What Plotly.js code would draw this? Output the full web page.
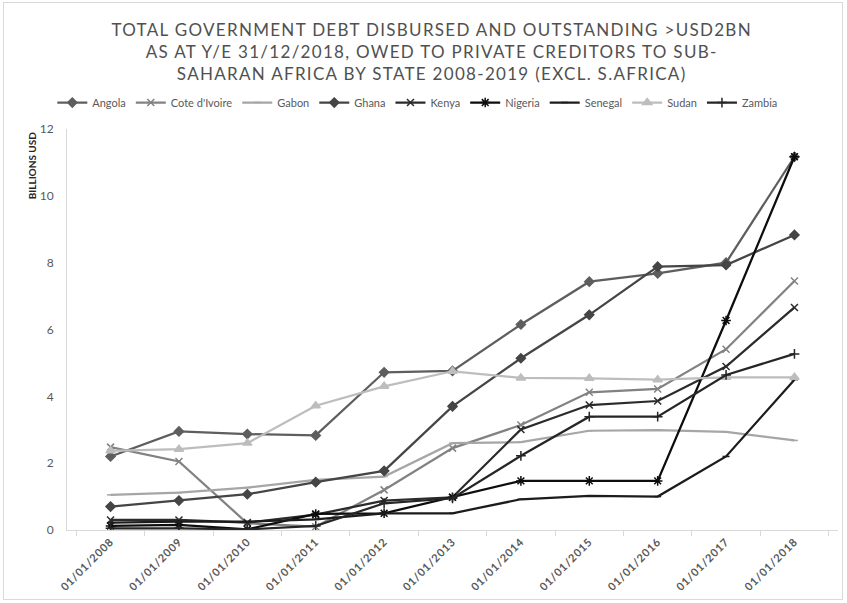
<!DOCTYPE html>
<html>
<head>
<meta charset="utf-8">
<script src="https://cdn.plot.ly/plotly-3.0.1.min.js"></script>
<style>
  html, body { margin: 0; padding: 0; background: #ffffff; }
  #chart { width: 847px; height: 603px; }
  #frame { position: absolute; left: 3px; top: 2px; width: 840px; height: 598px;
           border: 1px solid #d9d9d9; pointer-events: none; box-sizing: border-box; }
  .gtitle { letter-spacing: 1.3px; }
  .xtick text { letter-spacing: 0.8px; }
</style>
</head>
<body>
<div id="chart"></div>
<div id="frame"></div>
<script>
// Year-end dates on the category axis
const dates = ["01/01/2008", "01/01/2009", "01/01/2010", "01/01/2011", "01/01/2012", "01/01/2013",
               "01/01/2014", "01/01/2015", "01/01/2016", "01/01/2017", "01/01/2018"];

// Debt outstanding to private creditors, billions USD
const angola   = [2.20, 2.95, 2.87, 2.83, 4.72, 4.76, 6.15, 7.43, 7.68, 8.00, 11.17];
const coteIvoire = [2.48, 2.05, 0.20, 0.10, 1.20, 2.45, 3.14, 4.12, 4.22, 5.41, 7.45];
const gabon    = [1.05, 1.12, 1.27, 1.50, 1.60, 2.60, 2.63, 2.97, 2.99, 2.94, 2.68];
const ghana    = [0.70, 0.88, 1.07, 1.43, 1.77, 3.70, 5.14, 6.44, 7.88, 7.93, 8.83];
const kenya    = [0.30, 0.30, 0.22, 0.46, 0.88, 0.98, 3.01, 3.74, 3.86, 4.89, 6.66];
const nigeria  = [0.12, 0.15, 0.02, 0.48, 0.50, 0.98, 1.47, 1.47, 1.47, 6.27, 11.17];
const senegal  = [0.22, 0.25, 0.25, 0.32, 0.50, 0.50, 0.92, 1.02, 1.00, 2.20, 4.50];
const sudan    = [2.37, 2.42, 2.60, 3.72, 4.30, 4.75, 4.55, 4.54, 4.50, 4.57, 4.57];
const zambia   = [0.05, 0.05, 0.02, 0.12, 0.80, 0.95, 2.22, 3.39, 3.39, 4.64, 5.27];

const countries = ["Angola", "Cote d'Ivoire", "Gabon", "Ghana", "Kenya", "Nigeria", "Senegal", "Sudan", "Zambia"];
const seriesValues = [angola, coteIvoire, gabon, ghana, kenya, nigeria, senegal, sudan, zambia];

// Grey-scale styling for each country's line
const styles = [
  { color: "#5e5e5e", symbol: "diamond",        size: 7 },
  { color: "#828282", symbol: "x-thin-open",    size: 7 },
  { color: "#a6a6a6", symbol: "line-ew-open",   size: 5 },
  { color: "#454545", symbol: "diamond",        size: 7 },
  { color: "#2b2b2b", symbol: "x-thin-open",    size: 7 },
  { color: "#0d0d0d", symbol: "asterisk-open",  size: 8 },
  { color: "#1c1c1c", symbol: "line-ew-open",   size: 5 },
  { color: "#bdbdbd", symbol: "triangle-up",    size: 8 },
  { color: "#262626", symbol: "cross-thin-open", size: 7 }
];

const traces = countries.map((name, i) => ({
  type: "scatter",
  mode: "lines+markers",
  name: name,
  x: dates,
  y: seriesValues[i],
  line: { color: styles[i].color, width: 2.25 },
  marker: { symbol: styles[i].symbol, size: styles[i].size, color: styles[i].color,
            line: { color: styles[i].color, width: 1.5 } }
}));

const layout = {
  width: 847,
  height: 603,
  margin: { l: 67, r: 9, t: 129, b: 73 },
  paper_bgcolor: "#ffffff",
  plot_bgcolor: "#ffffff",
  font: { family: "Lato, 'Open Sans', sans-serif", color: "#595959" },
  title: {
    text: "TOTAL GOVERNMENT DEBT DISBURSED AND OUTSTANDING >USD2BN<br>AS AT Y/E 31/12/2018, OWED TO PRIVATE CREDITORS TO SUB-<br>SAHARAN AFRICA BY STATE 2008-2019 (EXCL. S.AFRICA)",
    font: { family: "Lato, sans-serif", size: 17, color: "#505050" },
    xref: "paper", x: 0.473, xanchor: "center",
    yref: "container", y: 0.941, yanchor: "top"
  },
  showlegend: true,
  legend: {
    orientation: "h",
    x: 0.455, xanchor: "center",
    y: 1.066, yanchor: "middle",
    font: { family: "Lato, sans-serif", size: 11, color: "#595959" },
    bgcolor: "rgba(0,0,0,0)",
    itemwidth: 30
  },
  xaxis: {
    type: "category",
    showgrid: false,
    zeroline: false,
    showline: true,
    linecolor: "#d9d9d9",
    linewidth: 1,
    ticks: "outside",
    tickson: "boundaries",
    ticklen: 5,
    tickcolor: "#d9d9d9",
    tickangle: -45,
    tickfont: { family: "Lato, sans-serif", size: 11, color: "#595959", weight: "bold" }
  },
  yaxis: {
    range: [0, 12],
    dtick: 2,
    showgrid: false,
    zeroline: false,
    showline: true,
    linecolor: "#d9d9d9",
    linewidth: 1,
    ticks: "",
    ticklabelstandoff: 10,
    tickfont: { family: "Lato, sans-serif", size: 12, color: "#595959" }
  },
  annotations: [{
    text: "BILLIONS USD",
    textangle: -90,
    xref: "paper", yref: "paper",
    x: -0.045, y: 1.0,
    xanchor: "center", yanchor: "top",
    showarrow: false,
    font: { family: "Lato, sans-serif", size: 10, color: "#262626", weight: "bold" }
  }]
};

Plotly.newPlot("chart", traces, layout, { displayModeBar: false, staticPlot: true });
</script>
</body>
</html>
